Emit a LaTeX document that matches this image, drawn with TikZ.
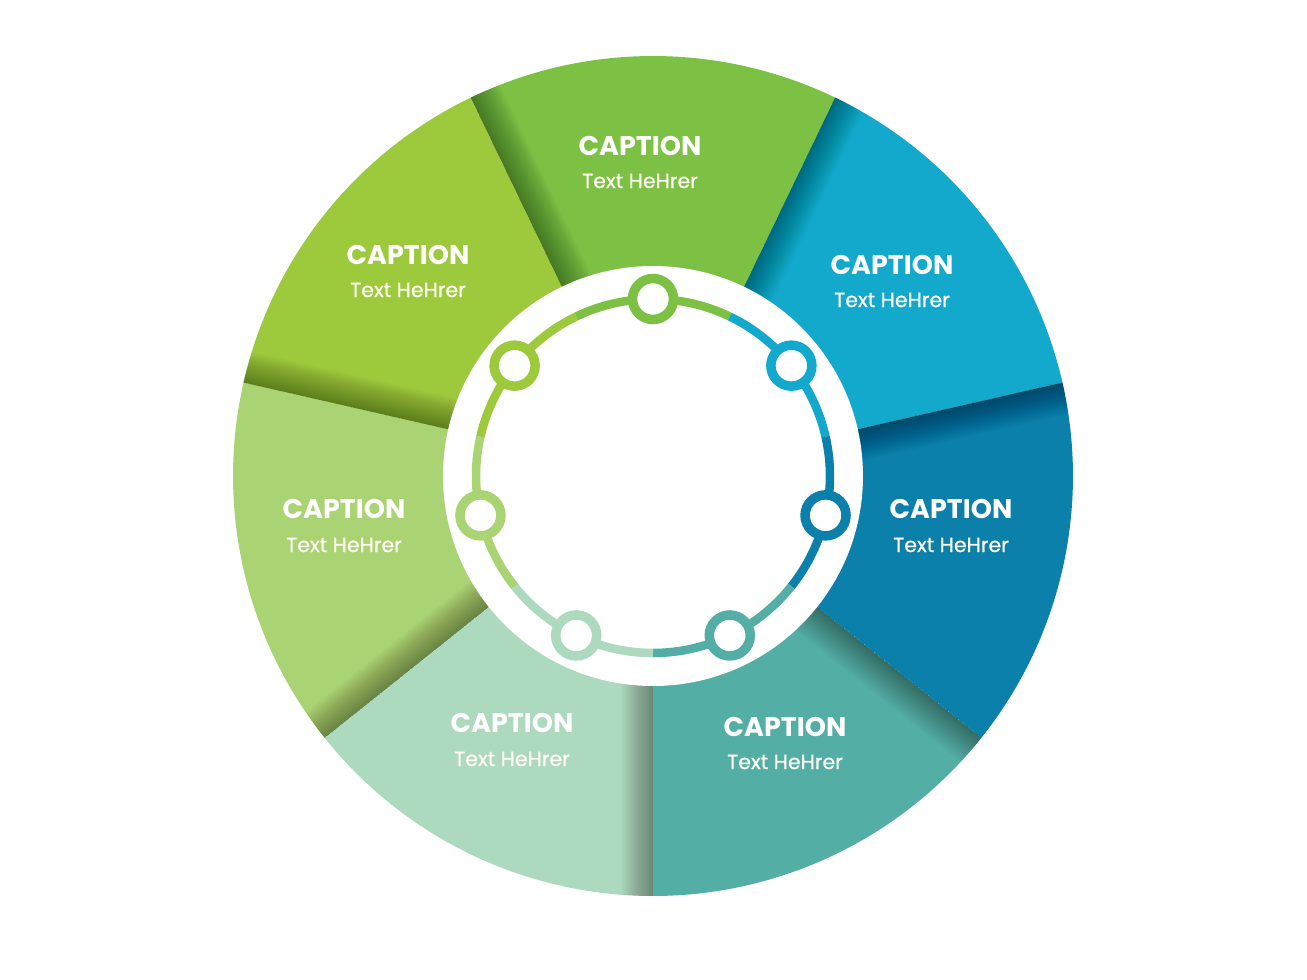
\documentclass[tikz,border=0pt]{standalone}
\usepackage{fontspec}
\setmainfont{Poppins}
\newfontfamily\subfont{Poppins}[FakeBold=0.6]
\definecolor{cA}{HTML}{7CC143}
\definecolor{cB}{HTML}{13A9CD}
\definecolor{cC}{HTML}{0B80AA}
\definecolor{cD}{HTML}{53AFA6}
\definecolor{cE}{HTML}{ADDABF}
\definecolor{cF}{HTML}{AAD374}
\definecolor{cG}{HTML}{9CCA3C}
\tikzset{
  capstyle/.style={font=\fontsize{27}{30}\selectfont\bfseries, text=white, inner sep=0pt},
  substyle/.style={font=\subfont\fontsize{20.5}{24}\selectfont, text=white!95!yellow, inner sep=0pt},
  dotstyle/.style={circle, fill=white, line width=9.5pt, minimum size=41pt, inner sep=0pt},
  ringarc/.style={line width=8.5pt}
}
\begin{document}
\begin{tikzpicture}[x=1pt,y=1pt]
\useasboundingbox (-653,-504) rectangle (654,476);
\fill[white] (-653,-504) rectangle (654,476);
% sectors
\foreach \m/\c in {90/cA, 38.5714/cB, -12.8571/cC, -64.2857/cD, -115.7143/cE, -167.1429/cF, 141.4286/cG} {
  \pgfmathsetmacro\sa{\m-25.7143}
  \pgfmathsetmacro\ea{\m+25.7143}
  \fill[\c] (0,0) -- (\sa:420) arc[start angle=\sa, end angle=\ea, radius=420] -- cycle;
}
% shadows cast onto each sector at its counter-clockwise edge
\foreach \m in {90, 38.5714, -12.8571, -64.2857, -115.7143, -167.1429, 141.4286} {
  \pgfmathsetmacro\sa{\m-25.7143}
  \pgfmathsetmacro\ea{\m+25.7143}
  \begin{scope}
    \clip (0,0) -- (\sa:420) arc[start angle=\sa, end angle=\ea, radius=420] -- cycle;
    \begin{scope}[rotate=\ea]
      \foreach \w in {1,...,32} {
        \fill[black, fill opacity=0.012] (0,0) rectangle (430,-\w);
      }
    \end{scope}
  \end{scope}
}
% inner white disk
\fill[white] (0,0) circle (210);
% ring arcs
\foreach \m/\c in {90/cA, 38.5714/cB, -12.8571/cC, -64.2857/cD, -115.7143/cE, -167.1429/cF, 141.4286/cG} {
  \pgfmathsetmacro\sa{\m-25.7143}
  \pgfmathsetmacro\ea{\m+25.7143}
  \draw[ringarc, \c] (\sa:177) arc[start angle=\sa, end angle=\ea, radius=177];
}
% ring dots
\node[dotstyle, draw=cA] (d1) at (90:177) {};
\node[dotstyle, draw=cB] (d2) at (38.5714:177) {};
\node[dotstyle, draw=cC] (d3) at (-12.8571:177) {};
\node[dotstyle, draw=cD] (d4) at (-64.2857:177) {};
\node[dotstyle, draw=cE] (d5) at (-115.7143:177) {};
\node[dotstyle, draw=cF] (d6) at (-167.1429:177) {};
\node[dotstyle, draw=cG] (d7) at (141.4286:177) {};
% labels
\node[capstyle] (c1) at (-13,330) {CAPTION};
\node[substyle] (t1) at (-13,295) {Text HeHrer};
\node[capstyle] (c2) at (239,211) {CAPTION};
\node[substyle] (t2) at (239,176) {Text HeHrer};
\node[capstyle] (c3) at (298,-33) {CAPTION};
\node[substyle] (t3) at (298,-69) {Text HeHrer};
\node[capstyle] (c4) at (132,-251) {CAPTION};
\node[substyle] (t4) at (132,-286) {Text HeHrer};
\node[capstyle] (c5) at (-141,-247) {CAPTION};
\node[substyle] (t5) at (-141,-283) {Text HeHrer};
\node[capstyle] (c6) at (-309,-33) {CAPTION};
\node[substyle] (t6) at (-309,-69) {Text HeHrer};
\node[capstyle] (c7) at (-245,221) {CAPTION};
\node[substyle] (t7) at (-245,186) {Text HeHrer};
\end{tikzpicture}
\end{document}
